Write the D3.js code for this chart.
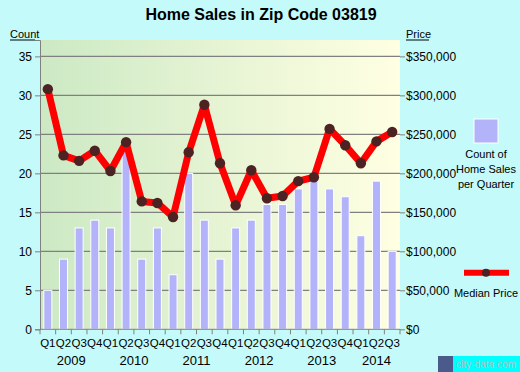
<!DOCTYPE html>
<html><head><meta charset="utf-8">
<script src="https://cdn.jsdelivr.net/npm/d3@7"></script>
<style>body{margin:0;background:#c4fafa;}svg{display:block;font-family:"Liberation Sans",Arial,sans-serif;}</style>
</head><body>
<svg id="c" width="520" height="372"></svg>
<script>
const quarters = ["Q1","Q2","Q3","Q4","Q1","Q2","Q3","Q4","Q1","Q2","Q3","Q4","Q1","Q2","Q3","Q4","Q1","Q2","Q3","Q4","Q1","Q2","Q3"];
const years = ["2009","2010","2011","2012","2013","2014"];
const salesCount = [5,9,13,14,13,23,9,13,7,20,14,9,13,14,16,16,18,19,18,17,12,19,10];
const medianPrice = [308000,223000,216000,229000,203000,240000,164000,162000,144000,227000,288000,213000,159000,204000,168000,171000,190000,195000,257000,236000,213000,241000,253000];
const countTicks = [0,5,10,15,20,25,30,35];
const priceTicks = [0,50000,100000,150000,200000,250000,300000,350000];

const FF = "'Liberation Sans',Arial,sans-serif";
const svg = d3.select("#c");
const L=40,R=400,T=40,B=329.3;
const n = quarters.length;
const x = d3.scaleBand().domain(d3.range(n)).range([L,R]).padding(0);
const y = d3.scaleLinear().domain([0,37.1]).range([B,T]);
const yp = d3.scaleLinear().domain([0,371000]).range([B,T]);

const defs = svg.append("defs");
const g = defs.append("linearGradient").attr("id","bg").attr("x1","0").attr("x2","1").attr("y1","0").attr("y2","0");
g.append("stop").attr("offset","0").attr("stop-color","#cce9c4");
g.append("stop").attr("offset","0.5").attr("stop-color","#e6f4d4");
g.append("stop").attr("offset","1").attr("stop-color","#ffffe2");
svg.append("rect").attr("x",L).attr("y",T).attr("width",R-L).attr("height",B-T).attr("fill","url(#bg)");

// title
svg.append("text").attr("x",261).attr("y",20).attr("text-anchor","middle").attr("font-size",16).attr("font-weight","bold").attr("fill","#000").text("Home Sales in Zip Code 03819");

// grid
svg.append("g").selectAll("line").data(countTicks.slice(1)).join("line")
  .attr("x1",L).attr("x2",R).attr("y1",d=>y(d)).attr("y2",d=>y(d)).attr("stroke","#808080").attr("stroke-width",1.2);

// left axis
const la = svg.append("g").attr("transform",`translate(${L},0)`).call(d3.axisLeft(y).tickValues(countTicks).tickSize(5).tickPadding(3));
la.select(".domain").attr("stroke","#808080");
la.selectAll(".tick line").attr("stroke","#808080");
la.selectAll("text").attr("font-size",12).attr("fill","#000").attr("font-family",FF);

// right axis
const ra = svg.append("g").attr("transform",`translate(${R},0)`).call(d3.axisRight(yp).tickValues(priceTicks).tickSize(5).tickPadding(1).tickFormat(d=>"$"+d3.format(",")(d)));
ra.select(".domain").remove();
ra.selectAll(".tick line").attr("stroke","#808080");
ra.selectAll("text").attr("font-size",12).attr("fill","#000").attr("font-family",FF);

// bars
svg.append("g").selectAll("rect").data(salesCount).join("rect")
  .attr("x",(d,i)=>x(i)+x.bandwidth()/2-4).attr("width",8)
  .attr("y",d=>y(d)).attr("height",d=>B-y(d))
  .attr("fill","#b3b3fa").attr("stroke","#ffffff").attr("stroke-width",1);

// x axis
svg.append("line").attr("x1",L).attr("x2",R).attr("y1",B).attr("y2",B).attr("stroke","#808080");
svg.append("g").selectAll("line").data(d3.range(n+1)).join("line")
  .attr("x1",i=>L+i*x.step()).attr("x2",i=>L+i*x.step()).attr("y1",B).attr("y2",B+5).attr("stroke","#808080");
svg.append("g").selectAll("text").data(quarters).join("text")
  .attr("x",(d,i)=>x(i)+x.bandwidth()/2).attr("y",347).attr("text-anchor","middle").attr("font-size",11.5).attr("fill","#000").text(d=>d);
svg.append("g").selectAll("text").data(years).join("text")
  .attr("x",(d,i)=>{const s=i*4,e=Math.min(s+3,n-1);return (x(s)+x(e)+x.bandwidth())/2;})
  .attr("y",365).attr("text-anchor","middle").attr("font-size",13).attr("fill","#000").text(d=>d);

// line
const line = d3.line().x((d,i)=>x(i)+x.bandwidth()/2).y(d=>yp(d));
svg.append("path").datum(medianPrice).attr("d",line).attr("fill","none").attr("stroke","#ff0000").attr("stroke-width",7).attr("stroke-linejoin","round");
svg.append("g").selectAll("circle").data(medianPrice).join("circle")
  .attr("cx",(d,i)=>x(i)+x.bandwidth()/2).attr("cy",d=>yp(d)).attr("r",5.2).attr("fill","#4d2222");

// axis titles
svg.append("text").attr("x",10).attr("y",38).attr("font-size",11).attr("fill","#000").text("Count");
svg.append("line").attr("x1",10).attr("x2",35).attr("y1",40).attr("y2",40).attr("stroke","#000");
svg.append("text").attr("x",406).attr("y",38).attr("font-size",11).attr("fill","#000").text("Price");
svg.append("line").attr("x1",406).attr("x2",429).attr("y1",40).attr("y2",40).attr("stroke","#000");

// legend
svg.append("rect").attr("x",474).attr("y",119).attr("width",24).attr("height",24).attr("fill","#b3b3fa").attr("stroke","#fff").attr("stroke-width",1);
["Count of","Home Sales","per Quarter"].forEach((t,i)=>svg.append("text").attr("x",486).attr("y",158+i*15).attr("text-anchor","middle").attr("font-size",11).attr("fill","#000").text(t));
svg.append("line").attr("x1",464).attr("x2",509).attr("y1",272.7).attr("y2",272.7).attr("stroke","#ff0000").attr("stroke-width",6);
svg.append("circle").attr("cx",486).attr("cy",272.7).attr("r",4).attr("fill","#4d2222");
svg.append("text").attr("x",486).attr("y",297).attr("text-anchor","middle").attr("font-size",11).attr("fill","#000").text("Median Price");

// watermark
svg.append("rect").attr("x",438).attr("y",356).attr("width",82).attr("height",16).attr("fill","#00ffff");
svg.append("rect").attr("x",438).attr("y",356).attr("width",15).attr("height",16).attr("fill","#4a5a8a");
svg.append("text").attr("x",456).attr("y",368).attr("font-size",11).attr("textLength",60).attr("lengthAdjust","spacingAndGlyphs").attr("fill","#a8c8c8").text("city-data.com");
</script>
</body></html>
